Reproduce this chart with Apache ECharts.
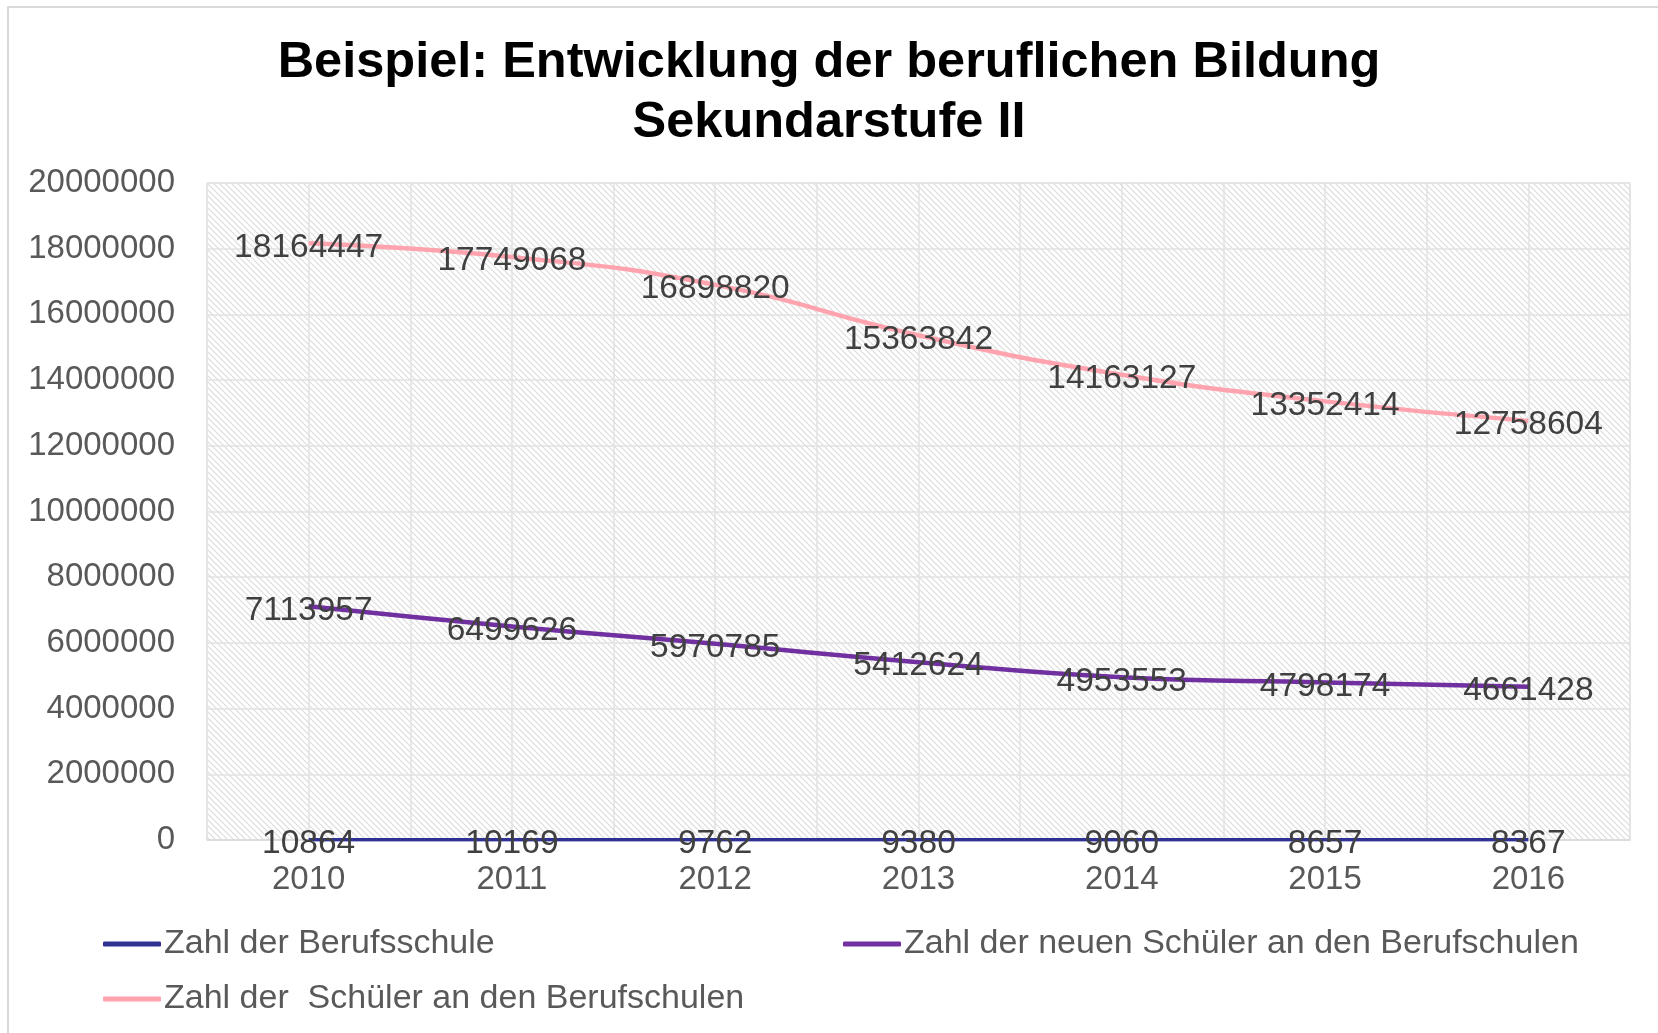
<!DOCTYPE html>
<html>
<head>
<meta charset="utf-8">
<script src="https://cdn.jsdelivr.net/npm/echarts@6/dist/echarts.min.js"></script>
<style>
  html, body { margin: 0; padding: 0; background: #fff; }
  #chart { width: 1658px; height: 1033px; }
</style>
</head>
<body>
<div id="chart"></div>
<script>
// Jahre (x-Achse)
const years = ["2010", "2011", "2012", "2013", "2014", "2015", "2016"];
// Werte je Reihe
const berufsschulen = [10864, 10169, 9762, 9380, 9060, 8657, 8367];
const neueSchueler = [7113957, 6499626, 5970785, 5412624, 4953553, 4798174, 4661428];
const schueler = [18164447, 17749068, 16898820, 15363842, 14163127, 13352414, 12758604];
// Namen der Reihen
const names = ["Zahl der Berufsschule", "Zahl der neuen Schüler an den Berufschulen", "Zahl der  Schüler an den Berufschulen"];

const FONT = "Liberation Sans, Arial, sans-serif";

//schraffierter Hintergrund der Zeichenfläche
function hatch() {
    const c = document.createElement("canvas");
    c.width = 6;
    c.height = 6;
    const ctx = c.getContext("2d");
    ctx.fillStyle = "#ffffff";
    ctx.fillRect(0, 0, 6, 6);
    ctx.strokeStyle = "#dcdcdc";
    ctx.lineWidth = 1.2;
    ctx.beginPath();
    ctx.moveTo(-1, -1); ctx.lineTo(7, 7);
    ctx.moveTo(-1, 5); ctx.lineTo(1, 7);
    ctx.moveTo(5, -1); ctx.lineTo(7, 1);
    ctx.stroke();
    return c;
}

// Hilfsachse für die Gitterlinien auf halben Kategorien
const halfSteps = years.flatMap(y => [y + "a", y + "b"]);

function lineSeries(name, data, color, width) {
    return {
        name: name,
        type: "line",
        data: data,
        smooth: true,
        symbol: "circle",
        symbolSize: 0,
        itemStyle: { color: color },
        lineStyle: { color: color, width: width },
        label: {
            show: true,
            position: "inside",
            offset: [0, 4],
            color: "#404040",
            fontSize: 33.5,
            fontFamily: FONT,
        },
        emphasis: { disabled: true },
    };
}

const legendBase = {
    icon: "roundRect",
    itemWidth: 58,
    itemHeight: 5,
    itemGap: 0,
    textStyle: { color: "#595959", fontSize: 34, fontFamily: FONT, padding: [0, 0, 0, -2] },
};

let chart = echarts.init(document.getElementById("chart"), null, { renderer: "canvas" });
let options = {
    backgroundColor: "#ffffff",
    animation: false,
    title: {
        text: "Beispiel: Entwicklung der beruflichen Bildung\nSekundarstufe II",
        left: "center",
        top: 28,
        padding: [5, 0, 5, 10],
        textStyle: {
            color: "#000000",
            fontSize: 50.5,
            fontWeight: "bold",
            fontFamily: FONT,
            lineHeight: 60,
        },
    },
    graphic: [{
        type: "rect",
        shape: { x: 8, y: 7, width: 1660, height: 1040 },
        style: { fill: null, stroke: "#d9d9d9", lineWidth: 2 },
        silent: true,
    }],
    legend: [
        Object.assign({ data: [names[0]], left: 98, top: 922 }, legendBase),
        Object.assign({ data: [names[1]], left: 838, top: 922 }, legendBase),
        Object.assign({ data: [names[2]], left: 98, top: 977 }, legendBase),
    ],
    grid: {
        show: true,
        left: 207,
        top: 183,
        right: 28,
        bottom: 193,
        backgroundColor: { image: hatch(), repeat: "repeat" },
        borderColor: "#dedede",
        borderWidth: 1,
        containLabel: false,
    },
    xAxis: [{
        type: "category",
        data: years,
        boundaryGap: true,
        axisLine: { show: true, lineStyle: { color: "#d9d9d9", width: 1.5 } },
        axisTick: { show: false },
        splitLine: { show: false },
        axisLabel: { color: "#595959", fontSize: 33, fontFamily: FONT, margin: 23 },
    }, {
        type: "category",
        data: halfSteps,
        position: "top",
        boundaryGap: true,
        axisLine: { show: false },
        axisTick: { show: false },
        axisLabel: { show: false },
        splitLine: { show: true, lineStyle: { color: "#e2e2e2", width: 1.5 } },
    }],
    yAxis: {
        type: "value",
        min: 0,
        max: 20000000,
        interval: 2000000,
        axisLine: { show: false },
        axisTick: { show: false },
        splitLine: { show: true, lineStyle: { color: "#e2e2e2", width: 1.5 } },
        axisLabel: {
            color: "#595959",
            fontSize: 33,
            fontFamily: FONT,
            margin: 32,
            formatter: v => String(v),
        },
    },
    series: [
        lineSeries(names[0], berufsschulen, "#2f3193", 3.5),
        lineSeries(names[1], neueSchueler, "#7030a0", 4.5),
        lineSeries(names[2], schueler, "#ffa4ae", 4.5),
    ],
};
//渲染图表
chart.setOption(options);
</script>
</body>
</html>
